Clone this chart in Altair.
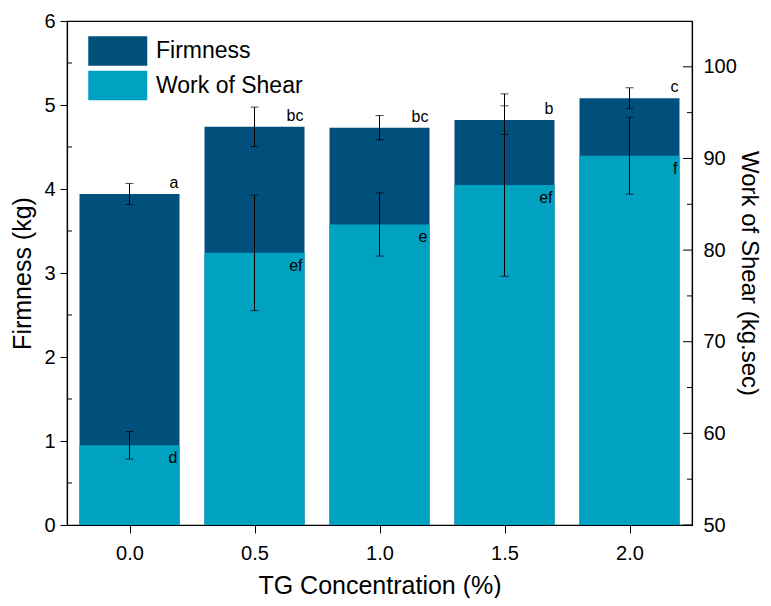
import altair as alt
import pandas as pd

# ---- data ----
tg = [0.0, 0.5, 1.0, 1.5, 2.0]
firmness = [3.94, 4.74, 4.73, 4.82, 5.08]
firmness_sd = [0.125, 0.235, 0.145, 0.17, 0.125]
firmness_letters = ["a", "bc", "bc", "b", "c"]
work_of_shear = [58.7, 79.7, 82.8, 87.1, 90.3]
work_of_shear_sd = [1.5, 6.3, 3.45, 9.95, 4.2]
wos_letters = ["d", "ef", "e", "ef", "f"]
series = ["Firmness", "Work of Shear"]

x_ticks = [0.0, 0.5, 1.0, 1.5, 2.0]
left_ticks = [0, 1, 2, 3, 4, 5, 6]
left_minor = [0.5, 1.5, 2.5, 3.5, 4.5, 5.5]
right_ticks = [50, 60, 70, 80, 90, 100]
right_minor = [55, 65, 75, 85, 95]

DARK = "#01507c"
LIGHT = "#00a1c1"
FONT = "Liberation Sans"

df = pd.DataFrame({
    "tg": tg,
    "firm": firmness,
    "firm_lo": [v - s for v, s in zip(firmness, firmness_sd)],
    "firm_hi": [v + s for v, s in zip(firmness, firmness_sd)],
    "flet": firmness_letters,
    "wos": work_of_shear,
    "wos_lo": [v - s for v, s in zip(work_of_shear, work_of_shear_sd)],
    "wos_hi": [v + s for v, s in zip(work_of_shear, work_of_shear_sd)],
    "wlet": wos_letters,
    "sf": series[0],
    "sw": series[1],
})

W, H = 625, 504
xscale = alt.Scale(domain=[-0.25, 2.25], nice=False, zero=False)
yL = alt.Scale(domain=[0, 6], nice=False)
yR = alt.Scale(domain=[50, 105], nice=False, zero=False)
cscale = alt.Scale(domain=series, range=[DARK, LIGHT])
legend = alt.Legend(
    title=None, orient="none", legendX=21, legendY=15,
    symbolType="M-1,-1H3V1H-1Z", symbolSize=870,
    symbolStrokeWidth=0, symbolOpacity=1,
    labelFontSize=23, labelFont=FONT, labelColor="black",
    labelOffset=38, rowPadding=4.5, padding=0,
)

x_axis = alt.Axis(values=x_ticks, format=".1f", title="TG Concentration (%)",
                  tickSize=8, labelPadding=10, titlePadding=10)
yl_axis = alt.Axis(values=left_ticks, title="Firmness (kg)", orient="left",
                   tickSize=7, labelPadding=5, titlePadding=8)
yr_axis = alt.Axis(values=right_ticks, title="Work of Shear (kg.sec)", orient="right",
                   ticks=False, labelPadding=11, titlePadding=0, titleFontSize=24)

base = alt.Chart(df).transform_calculate(
    x0="datum.tg - 0.2", x1="datum.tg + 0.2"
)


def cap(field, yscale, yaxis):
    return base.mark_tick(orient="horizontal", size=8, thickness=1, color="black").encode(
        x=alt.X("tg:Q", scale=xscale, axis=x_axis),
        y=alt.Y(f"{field}:Q", scale=yscale, axis=yaxis),
    )


# ---------- left (Firmness) ----------
firm_bars = base.mark_bar().encode(
    x=alt.X("x0:Q", scale=xscale, axis=x_axis),
    x2="x1:Q",
    y=alt.Y("firm:Q", scale=yL, axis=yl_axis),
    y2=alt.Y2Datum(0),
    color=alt.Color("sf:N", scale=cscale, legend=legend),
)
firm_err = base.mark_rule(color="black", strokeWidth=1).encode(
    x=alt.X("tg:Q", scale=xscale, axis=x_axis),
    y=alt.Y("firm_lo:Q", scale=yL, axis=yl_axis),
    y2="firm_hi:Q",
)
firm_text = base.mark_text(align="right", baseline="bottom", dy=-3, dx=-1,
                           fontSize=16, font=FONT, color="black").encode(
    x=alt.X("x1:Q", scale=xscale, axis=x_axis),
    y=alt.Y("firm:Q", scale=yL, axis=yl_axis),
    text="flet:N",
)
left_minor_ticks = alt.Chart(pd.DataFrame({"v": left_minor})).mark_rule(
    color="black", strokeWidth=1
).encode(
    x=alt.value(0), x2=alt.value(5),
    y=alt.Y("v:Q", scale=yL, axis=yl_axis),
)
left = alt.layer(firm_bars, firm_err, cap("firm_lo", yL, yl_axis), cap("firm_hi", yL, yl_axis),
                 firm_text, left_minor_ticks)

# ---------- right (Work of Shear) ----------
wos_bars = base.mark_bar().encode(
    x=alt.X("x0:Q", scale=xscale, axis=x_axis),
    x2="x1:Q",
    y=alt.Y("wos:Q", scale=yR, axis=yr_axis),
    y2=alt.Y2Datum(50),
    color=alt.Color("sw:N", scale=cscale, legend=legend),
)
wos_err = base.mark_rule(color="black", strokeWidth=1).encode(
    x=alt.X("tg:Q", scale=xscale, axis=x_axis),
    y=alt.Y("wos_lo:Q", scale=yR, axis=yr_axis),
    y2="wos_hi:Q",
)
wos_text = base.mark_text(align="right", baseline="top", dy=5, dx=-2,
                          fontSize=16, font=FONT, color="black").encode(
    x=alt.X("x1:Q", scale=xscale, axis=x_axis),
    y=alt.Y("wos:Q", scale=yR, axis=yr_axis),
    text="wlet:N",
)
right_major_ticks = alt.Chart(pd.DataFrame({"v": right_ticks})).mark_rule(
    color="black", strokeWidth=1
).encode(
    x=alt.value(W - 9), x2=alt.value(W),
    y=alt.Y("v:Q", scale=yR, axis=yr_axis),
)
right_minor_ticks = alt.Chart(pd.DataFrame({"v": right_minor})).mark_rule(
    color="black", strokeWidth=1
).encode(
    x=alt.value(W - 5), x2=alt.value(W),
    y=alt.Y("v:Q", scale=yR, axis=yr_axis),
)
right = alt.layer(wos_bars, wos_err, cap("wos_lo", yR, yr_axis), cap("wos_hi", yR, yr_axis),
                  wos_text, right_major_ticks, right_minor_ticks)

chart = (
    alt.layer(left, right)
    .resolve_scale(y="independent")
    .properties(
        width=W, height=H,
        autosize=alt.AutoSizeParams(type="none"),
        padding={"left": 59, "top": 13, "right": 71, "bottom": 73},
    )
    .configure_view(stroke="black", strokeWidth=1.2)
    .configure_axis(
        labelFont=FONT, labelFontSize=20, labelColor="black",
        titleFont=FONT, titleFontSize=25, titleFontWeight="normal", titleColor="black",
        domainColor="black", domainWidth=1.2, tickColor="black", tickWidth=1,
        grid=False,
    )
)

chart.save("out.html", embed_options={"renderer": "svg", "actions": False})
